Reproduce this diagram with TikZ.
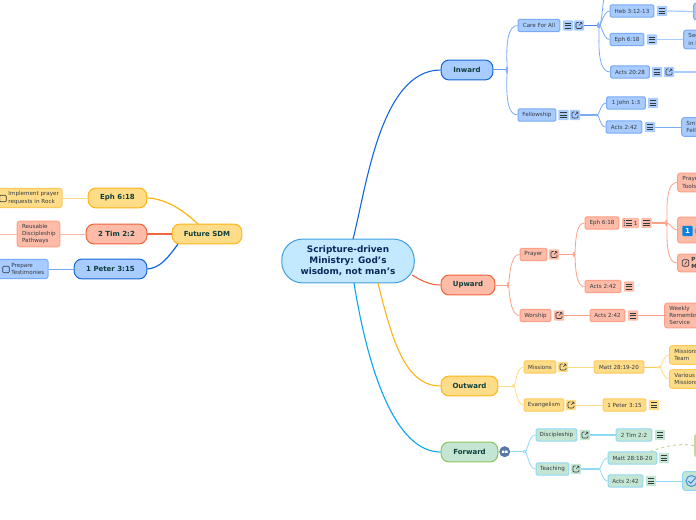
\documentclass[tikz,border=0pt]{standalone}
\usepackage{fontspec}
\setmainfont{DejaVu Sans}
\definecolor{bF}{HTML}{A8CCFF}\definecolor{bL}{HTML}{78AAF5}\definecolor{bD}{HTML}{1565D8}
\definecolor{rF}{HTML}{FDBBA8}\definecolor{rL}{HTML}{FF9F85}\definecolor{rD}{HTML}{F2643A}
\definecolor{yF}{HTML}{FFDD88}\definecolor{yL}{HTML}{FFC95A}\definecolor{yD}{HTML}{FFB414}
\definecolor{gF}{HTML}{C4E5D2}\definecolor{gL}{HTML}{8FD8F7}\definecolor{gD}{HTML}{8CC55C}
\definecolor{cD}{HTML}{0AA5F0}\definecolor{ink}{HTML}{333A40}\definecolor{mainink}{HTML}{0C3F3C}
\definecolor{rootF}{HTML}{C2E9FF}\definecolor{rootD}{HTML}{42A0DC}\definecolor{rootT}{HTML}{0A285A}
\definecolor{oneB}{HTML}{0A82E1}\definecolor{ringB}{HTML}{50AAE6}\definecolor{badgeB}{HTML}{5A78A5}
\definecolor{chkF}{HTML}{BEE1F5}\definecolor{chkD}{HTML}{4691DC}\definecolor{chkM}{HTML}{327DCD}
\definecolor{olive}{HTML}{C6D69E}
\tikzset{
 x=1bp,y=-1bp,
 sub/.style={rectangle,rounded corners=1.5,inner sep=0,line width=1,minimum height=12.5,text=ink,font=\fontsize{5.6bp}{7.2bp}\selectfont,align=center},
 bl/.style={sub,fill=bF,draw=bL},
 rd/.style={sub,fill=rF,draw=rL},
 yl/.style={sub,fill=yF,draw=yL},
 gr/.style={sub,fill=gF,draw=gL},
 side/.style={anchor=west,align=left,rounded corners=3,text width=56,inner sep=0,inner xsep=5,minimum width=66},
 mainn/.style={rectangle,rounded corners=8,inner sep=0,line width=1,minimum height=20,text=mainink,font=\fontsize{7bp}{9bp}\selectfont\bfseries},
 noteic/.style={rectangle,rounded corners=1,inner sep=0,minimum size=10.5,fill=#1,path picture={
   \draw[line width=.7,ink,shift={(path picture bounding box.center)}] (-3.2,-2.4)--(3.2,-2.4) (-3.2,0)--(3.2,0) (-3.2,2.4)--(3.2,2.4);}},
 linkic/.style={rectangle,rounded corners=1,inner sep=0,minimum size=10.5,fill=#1,path picture={
   \draw[line width=.55,ink,shift={(path picture bounding box.center)}] (-.5,-3)--(-3,-3)--(-3,3)--(3,3)--(3,.5) (0,0)--(3,-3) (1,-3)--(3,-3)--(3,-1);}},
 lin/.style={line width=.8,#1},
 stem/.style={line width=1.4,#1},
 chk/.style={rectangle,rounded corners=1,draw=ink,line width=.6,minimum size=6.5,inner sep=0},
}
\begin{document}
\begin{tikzpicture}
\useasboundingbox (0,0) rectangle (696,520);
\clip (0,0) rectangle (696,520);
% root and mains
\node[rectangle,rounded corners=21,minimum width=133,minimum height=44,inner sep=0,fill=rootF,draw=rootD,line width=1,align=center,text=rootT,font=\fontsize{8.9bp}{10.9bp}\selectfont\bfseries] (root) at (348,261) {Scripture-driven\\Ministry: God’s\\wisdom, not man’s};
\node[mainn,fill=bF,draw=bD,minimum width=52] (inward) at (467,70) {Inward};
\node[mainn,fill=rF,draw=rD,minimum width=54] (upward) at (468,285) {Upward};
\node[mainn,fill=yF,draw=yD,minimum width=57] (outward) at (469.5,386) {Outward};
\node[mainn,fill=gF,draw=gD,minimum width=57] (forward) at (469.5,452) {Forward};
\node[mainn,fill=yF,draw=yD,minimum width=70] (future) at (207,234) {Future SDM};
\node[mainn,fill=yF,draw=yD,minimum width=59] (leph) at (117.5,198) {Eph 6:18};
\node[mainn,fill=rF,draw=rD,minimum width=61] (ltim) at (116.5,234) {2 Tim 2:2};
\node[mainn,fill=bF,draw=bD,minimum width=73] (lpet) at (110.5,269) {1 Peter 3:15};
% root connectors
\coordinate (ri) at (353,239);
\coordinate (ru) at (412,275);
\coordinate (ro) at (378,283);
\coordinate (rf) at (354,283);
\draw[line width=1.1,bD] (ri) .. controls (366,190) and (380,70) .. (inward.west);
\draw[line width=1.1,rD] (ru) .. controls (422,281) and (430,285) .. (upward.west);
\draw[line width=1.1,yD] (ro) .. controls (392,340) and (405,386) .. (outward.west);
\draw[line width=1.1,cD] (rf) .. controls (368,370) and (395,452) .. (forward.west);
\coordinate (fy) at (198,224);
\coordinate (fb) at (178,244);
\draw[line width=1.2,yD] (leph.east) .. controls (168,199) and (185,212) .. (fy);
\draw[line width=1.6,rD] (ltim.east) -- (future.west);
\draw[line width=1.2,bD] (lpet.east) .. controls (160,268) and (168,258) .. (fb);
% left leaves
\node[yl,side,anchor=east,text width=54,inner xsep=0,minimum width=66,minimum height=19.5] (impl) at (62.7,198) {\hspace*{6bp}\parbox{56bp}{Implement prayer\\requests in Rock}};
\node[chk] (implc) at (3,198.5) {};
\node[rd,side,anchor=center,text width=33,minimum width=43,minimum height=26] (reus) at (38.5,234) {Reusable\\Discipleship\\Pathways};
\node[bl,side,anchor=east,text width=40,inner xsep=0,minimum width=52,minimum height=19.5,rounded corners=3] (prep) at (48.7,269) {\hspace*{9bp}\parbox{40bp}{Prepare\\Testimonies}};
\node[chk] (prepc) at (6,269.5) {};
\coordinate (lr) at (0,234);
\draw[lin=yF] (leph.west) -- (impl.east);
\draw[lin=rF] (ltim.west) -- (reus.east);
\draw[lin=rF] (reus.west) -- (lr);
\draw[lin=bL] (lpet.west) -- (prep.east);
% INWARD
\coordinate (bi) at (506,70);
\node[bl,minimum width=42] (care) at (539,25.5) {Care For All};
\node[noteic=bF] (caren) at (568,25.5) {};
\node[linkic=bF] (carel) at (579,25.5) {};
\node[bl,minimum width=38] (fell) at (537,115) {Fellowship};
\node[noteic=bF] (felln) at (563.5,115) {};
\node[linkic=bF] (felll) at (575,115) {};
\draw[stem=bL!80!bD,line width=1] (inward.east) -- (bi);
\draw[lin=bL] (bi) to[out=-75,in=180] (care.west);
\draw[lin=bL] (bi) to[out=75,in=180] (fell.west);
\coordinate (bc) at (597,25.5);
\coordinate (topc) at (604,-2);
\draw[stem=bD!50!bL] (carel.east) -- (bc);
\node[bl,minimum width=44] (heb) at (632,11) {Heb 3:12-13};
\node[noteic=bF] (hebn) at (662,11) {};
\node[bl,minimum width=34] (eph1) at (627,39.5) {Eph 6:18};
\node[noteic=bF] (eph1n) at (652,39.5) {};
\node[bl,minimum width=39] (acts20) at (630,72) {Acts 20:28};
\node[noteic=bF] (acts20n) at (657,72) {};
\node[linkic=bF] (acts20l) at (669,72) {};
\draw[lin=bL] (bc) to[out=-70,in=260] (topc);
\draw[lin=bL] (bc) to[out=-60,in=180] (heb.west);
\draw[lin=bL] (bc) to[out=50,in=180] (eph1.west);
\draw[lin=bL] (bc) to[out=70,in=180] (acts20.west);
\node[bl,side,minimum height=17] (hebc) at (693,11.5) {};
\node[bl,side,minimum height=19] (seek) at (683,39.5) {Sec\\in F};
\coordinate (aedge) at (697,72);
\draw[stem=bF,line width=1.2] (hebn.east) -- (hebc.west);
\draw[stem=bF,line width=1.2] (eph1n.east) -- (seek.west);
\draw[stem=bF,line width=1.4] (acts20l.east) -- (aedge);
\coordinate (bf) at (595,115);
\draw[stem=bL] (felll.east) -- (bf);
\node[bl,minimum width=39] (john) at (626,103) {1 John 1:3};
\node[noteic=bF] (johnn) at (653,103) {};
\node[bl,minimum width=36] (acts1) at (624,127) {Acts 2:42};
\node[noteic=bF] (acts1n) at (650,127) {};
\node[bl,side,minimum height=19] (small) at (681,127) {Smi\\Fello};
\draw[lin=bL] (bf) to[out=-50,in=180] (john.west);
\draw[lin=bL] (bf) to[out=50,in=180] (acts1.west);
\draw[lin=bL] (acts1n.east) -- (small.west);
% UPWARD
\coordinate (bu) at (507,285);
\node[rd,minimum width=27] (prayer) at (533.5,254.5) {Prayer};
\node[linkic=rF] (prayerl) at (554,254.5) {};
\node[rd,minimum width=31] (worship) at (535.5,315.5) {Worship};
\node[linkic=rF] (worshipl) at (559,315.5) {};
\draw[stem=rL,line width=1] (upward.east) -- (bu);
\draw[lin=rL] (bu) to[out=-75,in=180] (prayer.west);
\draw[lin=rL] (bu) to[out=75,in=180] (worship.west);
\coordinate (bp) at (573,254.5);
\draw[stem=rL,line width=1] (prayerl.east) -- (bp);
\node[rd,minimum width=34] (eph2) at (602,223) {Eph 6:18};
\node[rectangle,rounded corners=1,inner sep=0,minimum width=17,minimum height=10.5,fill=rF] (eph2t) at (630.5,223) {};
\draw[line width=.7,ink,shift={(eph2t.center)}] (-4.5,-2.4)--(1.5,-2.4) (-4.5,0)--(1.5,0) (-4.5,2.4)--(1.5,2.4);
\fill[ink,shift={(eph2t.center)}] (-6.3,-2.4) circle (.7) (-6.3,0) circle (.7) (-6.3,2.4) circle (.7);
\node[inner sep=0,text=ink,font=\fontsize{5.6bp}{6bp}\selectfont] (eph2c) at (635.7,223) {1};
\node[noteic=rF] (eph2n) at (646.5,223) {};
\node[rd,minimum width=36] (acts2) at (603,286.5) {Acts 2:42};
\node[noteic=rF] (acts2n) at (629,286.5) {};
\node[rd,minimum width=35] (acts3) at (607.5,315.5) {Acts 2:42};
\node[noteic=rF] (acts3n) at (633,315.5) {};
\draw[lin=rL] (bp) to[out=-70,in=180] (eph2.west);
\draw[lin=rL] (bp) to[out=70,in=180] (acts2.west);
\draw[lin=rL] (worshipl.east) -- (acts3.west);
\node[rd,side,minimum height=25,text width=60] (weekly) at (664,315.5) {Weekly\\Remembrance\\Service};
\draw[lin=rL] (acts3n.east) -- (weekly.west);
\coordinate (be) at (665,223);
\draw[stem=rL] (eph2n.east) -- (be);
\node[rd,side,minimum height=19] (tools) at (677,182.5) {Prayer\\Tools};
\node[rd,side,minimum height=26] (mid) at (677,230) {};
\node[rd,side,minimum height=18,inner xsep=14,font=\fontsize{5.6bp}{7.2bp}\selectfont\bfseries] (pers) at (677,263) {P\\M};
\draw[lin=rL] (be) to[out=-70,in=180] (tools.west);
\draw[lin=rL] (be) to[out=10,in=180] (mid.west);
\draw[lin=rL] (be) to[out=70,in=180] (pers.west);
\node[rectangle,rounded corners=1,minimum size=10.5,inner sep=0,fill=oneB,text=white,font=\fontsize{7bp}{8bp}\selectfont\bfseries] (one) at (687.5,231) {1};
\node[circle,minimum size=10,inner sep=0,draw=ringB,line width=1] (ring) at (700,231) {};
\node[chk,draw=ink,line width=.7] (persc) at (685.5,263) {};
\draw[ink,line width=.6] (684.5,264.5) -- (687,261.5);
% OUTWARD
\coordinate (bo) at (512,386);
\node[yl,minimum width=32] (miss) at (540,367) {Missions};
\node[linkic=yF] (missl) at (563,367) {};
\node[yl,minimum width=40] (evan) at (544,405) {Evangelism};
\node[linkic=yF] (evanl) at (571,405) {};
\draw[stem=yF,line width=1] (outward.east) -- (bo);
\draw[lin=yF] (bo) to[out=-65,in=180] (miss.west);
\draw[lin=yF] (bo) to[out=65,in=180] (evan.west);
\node[yl,minimum width=50] (matt) at (619,367) {Matt 28:19-20};
\node[yl,minimum width=43] (pet2) at (624.5,405) {1 Peter 3:15};
\node[noteic=yF] (pet2n) at (654,405) {};
\draw[lin=yF] (missl.east) -- (matt.west);
\draw[lin=yF] (evanl.east) -- (pet2.west);
\coordinate (bm) at (657,367);
\draw[stem=yL,line width=1] (matt.east) -- (bm);
\node[yl,side,minimum height=19] (team) at (669,355) {Missions\\Team};
\node[yl,side,minimum height=19] (vari) at (669,379) {Various\\Missions};
\draw[lin=yF] (bm) to[out=-50,in=180] (team.west);
\draw[lin=yF] (bm) to[out=50,in=180] (vari.west);
% FORWARD
\node[circle,minimum size=11,inner sep=0,fill=badgeB,path picture={\fill[white,shift={(path picture bounding box.center)}] (-2.8,-1.2) rectangle (-.4,1.2) (.4,-1.2) rectangle (2.8,1.2);}] (badge) at (504.7,451.7) {};
\draw[gD,line width=.8] (forward.east) -- (badge.west);
\coordinate (bg) at (523,451.7);
\draw[stem=gL] (badge.east) -- (bg);
\node[gr,minimum width=41] (disc) at (556.5,435) {Discipleship};
\node[linkic=gF] (discl) at (585,435) {};
\node[gr,minimum width=33] (teach) at (552.5,469) {Teaching};
\node[linkic=gF] (teachl) at (576,469) {};
\draw[lin=gL] (bg) to[out=-60,in=180] (disc.west);
\draw[lin=gL] (bg) to[out=60,in=180] (teach.west);
\node[gr,minimum width=36] (tim2) at (634,435) {2 Tim 2:2};
\node[noteic=gF] (tim2n) at (660,435) {};
\draw[stem=gL,line width=1.1] (discl.east) -- (tim2.west);
\coordinate (bt) at (597,469);
\draw[stem=gL] (teachl.east) -- (bt);
\node[gr,minimum width=49] (matt2) at (632.5,458) {Matt 28:18-20};
\node[noteic=gF] (matt2n) at (664,458) {};
\node[gr,minimum width=35] (acts4) at (625.5,481) {Acts 2:42};
\node[noteic=gF] (acts4n) at (651,481) {};
\draw[lin=gL] (bt) to[out=-55,in=180] (matt2.west);
\draw[lin=gL] (bt) to[out=55,in=180] (acts4.west);
\node[gr,side,minimum height=19] (chkn) at (682,481) {};
\draw[lin=gL] (acts4n.east) -- (chkn.west);
\node[circle,minimum size=11,inner sep=0,fill=chkF,draw=chkD,line width=1] (chkc) at (691.5,481) {};
\draw[chkM,line width=.9] (688.5,481) -- (690.8,483.3) -- (695,478.5);
\node[rectangle,rounded corners=2,minimum width=20,minimum height=23,inner sep=0,anchor=west,fill=olive] (olivebox) at (694,445.5) {};
\coordinate (ds) at (650,451.5);
\draw[olive,line width=1,dashed] (ds) .. controls (665,446) and (680,443) .. (olivebox.west);
\end{tikzpicture}
\end{document}
